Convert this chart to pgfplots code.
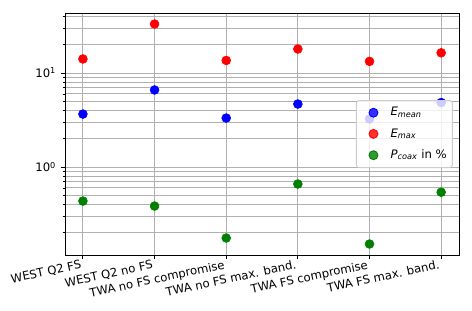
\documentclass[border=0pt]{standalone}
\usepackage{pgfplots}
\pgfplotsset{compat=1.18}
\usepackage{fontspec}
\setmainfont{DejaVu Sans}
\definecolor{mplgreen}{rgb}{0,0.5,0}
\definecolor{gridgray}{HTML}{B0B0B0}
\pgfplotsset{dots/.style={only marks, mark=*, mark size=3.2pt, #1, mark options={draw=#1, fill=#1},
  legend image code/.code={\path (0cm,0cm) (0.7cm,0cm); \draw[mark repeat=2,mark phase=2,##1] plot coordinates {(0cm,0cm) (0.35cm,0cm) (0.7cm,0cm)};}}}
\begin{document}
\begin{tikzpicture}[x=1pt,y=1pt]
\useasboundingbox (-46.8,-39.6) rectangle (293.0,183.6);
\begin{axis}[
  at={(0,0)}, anchor=south west,
  scale only axis, width=283.7pt, height=174.2pt,
  ymode=log, xmin=-0.25, xmax=5.25, ymin=0.116, ymax=43.4,
  xtick={0,1,2,3,4,5},
  xticklabels={WEST Q2 FS, WEST Q2 no FS, TWA no FS compromise, TWA no FS max. band., TWA FS compromise, TWA FS max. band.},
  xticklabel style={rotate=12, anchor=north east, xshift=-1pt, yshift=1pt, inner sep=1pt, font=\fontsize{8.4}{10}\selectfont},
  ytick={1,10}, yticklabels={10\textsuperscript{0},10\textsuperscript{1}},
  minor ytick={0.2,0.3,0.4,0.5,0.6,0.7,0.8,0.9,2,3,4,5,6,7,8,9,20,30,40},
  yticklabel style={font=\fontsize{8.4}{10}\selectfont},
  tick align=outside, xtick pos=bottom, ytick pos=left,
  major tick length=2.9pt, minor tick length=1.7pt,
  every tick/.style={black, line width=0.67pt},
  minor tick style={line width=0.5pt},
  xmajorgrids, ymajorgrids, yminorgrids,
  major grid style={gridgray, line width=0.67pt},
  minor grid style={gridgray, line width=0.67pt},
  axis line style={line width=0.67pt},
  legend style={at={(1,0.5)}, anchor=east, xshift=-4.5pt, draw=black!20, line width=0.67pt, fill=white, fill opacity=0.8, text opacity=1, rounded corners=2pt, font=\fontsize{8.4}{10}\selectfont, row sep=3.6pt, inner ysep=3pt, inner xsep=2pt},
  legend cell align=left,
]
\addplot[dots=blue] coordinates {(0,3.66) (1,6.6) (2,3.32) (3,4.68) (4,3.24) (5,4.85)};
\addlegendentry{\textit{E}\textsubscript{\textit{mean}}}
\addplot[dots=red] coordinates {(0,14.1) (1,33.2) (2,13.6) (3,18.0) (4,13.3) (5,16.4)};
\addlegendentry{\textit{E}\textsubscript{\textit{max}}}
\addplot[dots=mplgreen] coordinates {(0,0.435) (1,0.385) (2,0.176) (3,0.66) (4,0.152) (5,0.54)};
\addlegendentry{\textit{P}\textsubscript{\textit{coax}} in \%}
\end{axis}
\end{tikzpicture}
\end{document}
